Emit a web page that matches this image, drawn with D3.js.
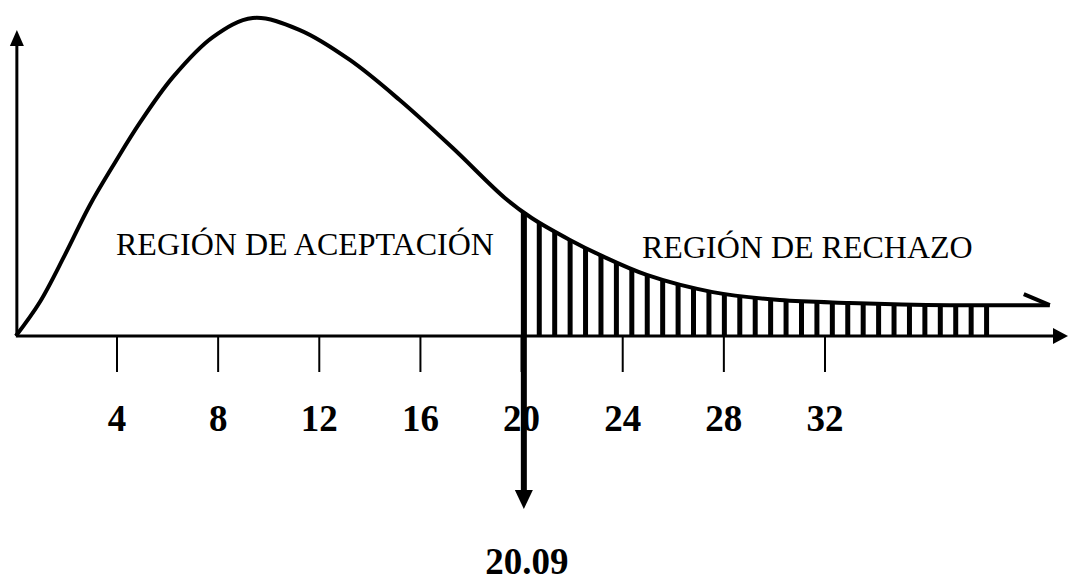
<!DOCTYPE html>
<html>
<head>
<meta charset="utf-8">
<script src="https://cdn.jsdelivr.net/npm/d3@7"></script>
<style>
    body { margin: 0; background: #fff; }
    svg { display: block; }
    .lab { font-family: "Liberation Serif", "Times New Roman", serif; fill: #000; }
    .tick { font-weight: bold; font-size: 37px; }
    .region { font-size: 32px; }
</style>
</head>
<body>
<div id="chartdiv"></div>
<script>
//chi-square style density with rejection region shaded by vertical hatch
var xTicks = [4, 8, 12, 16, 20, 24, 28, 32],
    curveX = [0, 0.95, 1.94, 2.93, 3.91, 4.90, 6.21, 7.79, 9.37, 11.23,
              13.21, 15.18, 17.28, 19.34, 20.40, 21.91, 23.09, 24.95,
              27.56, 30.21, 32.98, 36.93, 40.89],
    curveY = [0, 0.107, 0.255, 0.412, 0.544, 0.670, 0.814, 0.940, 1.0,
              0.962, 0.868, 0.742, 0.591, 0.434, 0.371, 0.302, 0.255,
              0.192, 0.138, 0.113, 0.104, 0.097, 0.097],
    critValue = 20.09,
    hatchEnd = 38.5,
    hatchStep = 0.61,
    regionLabels = ["REGIÓN DE ACEPTACIÓN", "REGIÓN DE RECHAZO"];

(function () {
    "use strict";
    var W = 1068, H = 583, svg, x, y, dens, pts, line, hatch, last;

    svg = d3.select("#chartdiv").append("svg")
        .attr("width", W).attr("height", H);

    //fitted so that 4 and 32 land under the drawn tick marks
    x = d3.scaleLinear().domain([4, 32]).range([117, 825]);
    y = d3.scaleLinear().domain([0, 1]).range([336, 18]);
    dens = d3.scaleLinear().domain(curveX).range(curveY);  //read-off lookup

    //hatched rejection region
    hatch = d3.range(critValue, hatchEnd, hatchStep);
    svg.append("g").selectAll("line").data(hatch).enter().append("line")
        .attr("x1", function (d) { return x(d); })
        .attr("x2", function (d) { return x(d); })
        .attr("y1", y(0))
        .attr("y2", function (d) { return y(dens(d)); })
        .attr("stroke", "#000")
        .attr("stroke-width", 5);

    //axes
    svg.append("line")
        .attr("x1", x(0)).attr("x2", 1053)
        .attr("y1", y(0)).attr("y2", y(0))
        .attr("stroke", "#000").attr("stroke-width", 3);
    svg.append("path")
        .attr("d", "M1053," + (y(0) - 8) + "L1068," + y(0) + "L1053," + (y(0) + 8) + "Z")
        .attr("fill", "#000");
    svg.append("line")
        .attr("x1", x(0) + 1).attr("x2", x(0) + 1)
        .attr("y1", y(0)).attr("y2", 44)
        .attr("stroke", "#000").attr("stroke-width", 3);
    svg.append("path")
        .attr("d", "M" + (x(0) - 6) + ",46L" + (x(0) + 1) + ",30L" + (x(0) + 8) + ",46Z")
        .attr("fill", "#000");

    svg.append("g").selectAll("line").data(xTicks).enter().append("line")
        .attr("x1", function (d) { return x(d); })
        .attr("x2", function (d) { return x(d); })
        .attr("y1", y(0)).attr("y2", y(0) + 36)
        .attr("stroke", "#000").attr("stroke-width", 2);
    svg.append("g").selectAll("text").data(xTicks).enter().append("text")
        .attr("class", "lab tick")
        .attr("x", function (d) { return x(d); })
        .attr("y", 431)
        .attr("text-anchor", "middle")
        .text(function (d) { return d; });

    //density curve
    pts = curveX.map(function (v, i) { return [v, curveY[i]]; });
    line = d3.line()
        .x(function (d) { return x(d[0]); })
        .y(function (d) { return y(d[1]); })
        .curve(d3.curveCatmullRom.alpha(0.5));
    svg.append("path").datum(pts)
        .attr("d", line)
        .attr("fill", "none")
        .attr("stroke", "#000")
        .attr("stroke-width", 4);
    //little hook at the tail end
    last = pts[pts.length - 1];
    svg.append("line")
        .attr("x1", x(last[0]) - 26).attr("y1", y(last[1]) - 11)
        .attr("x2", x(last[0])).attr("y2", y(last[1]))
        .attr("stroke", "#000").attr("stroke-width", 4);

    //critical value marker
    svg.append("line")
        .attr("x1", x(critValue)).attr("x2", x(critValue))
        .attr("y1", y(dens(critValue))).attr("y2", 492)
        .attr("stroke", "#000").attr("stroke-width", 6);
    svg.append("path")
        .attr("d", "M" + (x(critValue) - 9) + ",490L" + x(critValue) + ",509L" +
              (x(critValue) + 9) + ",490Z")
        .attr("fill", "#000");
    svg.append("text")
        .attr("class", "lab tick")
        .attr("x", x(critValue) + 3)
        .attr("y", 574)
        .attr("text-anchor", "middle")
        .text(critValue.toFixed(2));

    svg.append("text").attr("class", "lab region")
        .attr("x", 116).attr("y", 255).text(regionLabels[0]);
    svg.append("text").attr("class", "lab region")
        .attr("x", 642).attr("y", 258).text(regionLabels[1]);
}());
</script>
</body>
</html>
